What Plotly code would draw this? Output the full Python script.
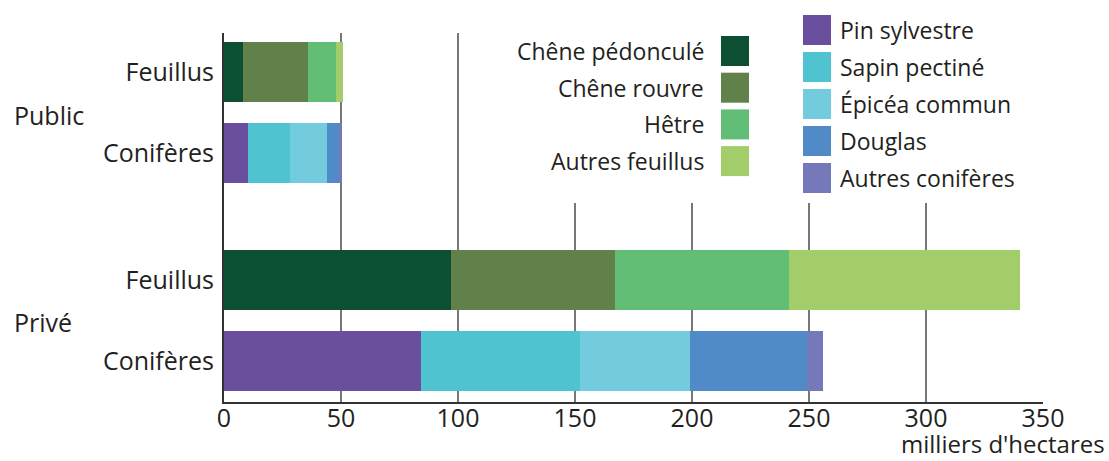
import plotly.graph_objects as go

# Données (milliers d'hectares)
lignes = ["Feuillus", "Conifères"]

feuillus = ["Chêne pédonculé", "Chêne rouvre", "Hêtre", "Autres feuillus"]
feuillus_public = [8, 28, 12, 3]
feuillus_prive = [97, 70, 74.5, 98.5]

coniferes = ["Pin sylvestre", "Sapin pectiné", "Épicéa commun", "Douglas", "Autres conifères"]
coniferes_public = [10.3, 17.9, 15.8, 5.3, 1.1]
coniferes_prive = [84, 68, 47, 50, 7]

couleurs_feuillus = ["#0d4f33", "#62804a", "#62be76", "#a3cd6a"]
couleurs_coniferes = ["#6b4f9f", "#4fc3cf", "#72ccdd", "#508bc8", "#7578b9"]

graduations = [0, 50, 100, 150, 200, 250, 300, 350]

W, H = 1109, 461
L, R, T, B = 224, 1043, 33, 402
FONT = "Open Sans, Liberation Sans, sans-serif"
TXT = "#231f20"


def px(x):
    return (x - L) / (R - L)


def py(y):
    return (B - y) / (B - T)


fig = go.Figure()

# Public en haut (y2), Privé en bas (y)
for axe, vals_f, vals_c in [("y2", feuillus_public, coniferes_public),
                            ("y", feuillus_prive, coniferes_prive)]:
    for nom, v, c in zip(feuillus, vals_f, couleurs_feuillus):
        fig.add_trace(go.Bar(x=[v], y=[lignes[0]], orientation="h", name=nom,
                             marker=dict(color=c, line=dict(width=0)),
                             xaxis="x", yaxis=axe, showlegend=False))
    for nom, v, c in zip(coniferes, vals_c, couleurs_coniferes):
        fig.add_trace(go.Bar(x=[v], y=[lignes[1]], orientation="h", name=nom,
                             marker=dict(color=c, line=dict(width=0)),
                             xaxis="x", yaxis=axe, showlegend=False))

split = py(217)
yax = dict(type="category", categoryorder="array", categoryarray=lignes,
           showline=True, linecolor="#333", linewidth=2, showgrid=False,
           ticks="", ticklabelstandoff=3, anchor="x", automargin=False,
           tickfont=dict(family=FONT, size=25, color=TXT))

fig.update_layout(
    width=W, height=H,
    margin=dict(l=L, r=W - R, t=T, b=H - B, autoexpand=False),
    plot_bgcolor="white", paper_bgcolor="white",
    barmode="stack", bargap=0.27,
    font=dict(family=FONT, color=TXT),
    xaxis=dict(range=[0, 350], tickvals=graduations, showgrid=True,
               gridcolor="#777", gridwidth=1.5, zeroline=False,
               showline=True, linecolor="#333", linewidth=2, ticks="",
               ticklabelstandoff=-7, anchor="y", automargin=False,
               tickfont=dict(family=FONT, size=25, color=TXT)),
    yaxis=dict(domain=[0, split], range=[1.506, -0.778], **yax),
    yaxis2=dict(domain=[split, 1], range=[1.79, -0.481], **yax),
)

annotations = [
    dict(text="Public", x=px(12), y=py(115), xanchor="left", size=25),
    dict(text="Privé", x=px(12), y=py(322), xanchor="left", size=25),
    dict(text="milliers d'hectares", x=px(1107), y=py(443), xanchor="right", size=24),
]
for a in annotations:
    a.update(xref="paper", yref="paper", yanchor="middle", showarrow=False,
             font=dict(family=FONT, size=a.pop("size"), color=TXT))

# Cache blanc derrière la légende
shapes = [dict(type="rect", xref="paper", yref="paper", layer="above",
               x0=px(470), x1=px(W + 5), y0=py(203), y1=py(-5),
               fillcolor="white", line=dict(width=0))]

# Légende feuillus (texte à gauche du carré)
for i, (nom, c) in enumerate(zip(feuillus, couleurs_feuillus)):
    yc = 51 + i * 36.7
    shapes.append(dict(type="rect", xref="paper", yref="paper", layer="above",
                       x0=px(721), x1=px(749), y0=py(yc + 15), y1=py(yc - 15),
                       fillcolor=c, line=dict(width=0)))
    annotations.append(dict(text=nom, x=px(706), y=py(yc), xref="paper", yref="paper",
                            xanchor="right", yanchor="middle", showarrow=False,
                            font=dict(family=FONT, size=23, color=TXT)))

# Légende conifères (texte à droite du carré)
for i, (nom, c) in enumerate(zip(coniferes, couleurs_coniferes)):
    yc = 30 + i * 37
    shapes.append(dict(type="rect", xref="paper", yref="paper", layer="above",
                       x0=px(803), x1=px(831), y0=py(yc + 15), y1=py(yc - 15),
                       fillcolor=c, line=dict(width=0)))
    annotations.append(dict(text=nom, x=px(838), y=py(yc), xref="paper", yref="paper",
                            xanchor="left", yanchor="middle", showarrow=False,
                            font=dict(family=FONT, size=23, color=TXT)))

fig.update_layout(annotations=annotations, shapes=shapes)

# la page a une marge de 8 px par défaut
fig.write_html("out.html", config={"displayModeBar": False},
               post_script="document.body.style.margin='0';")
